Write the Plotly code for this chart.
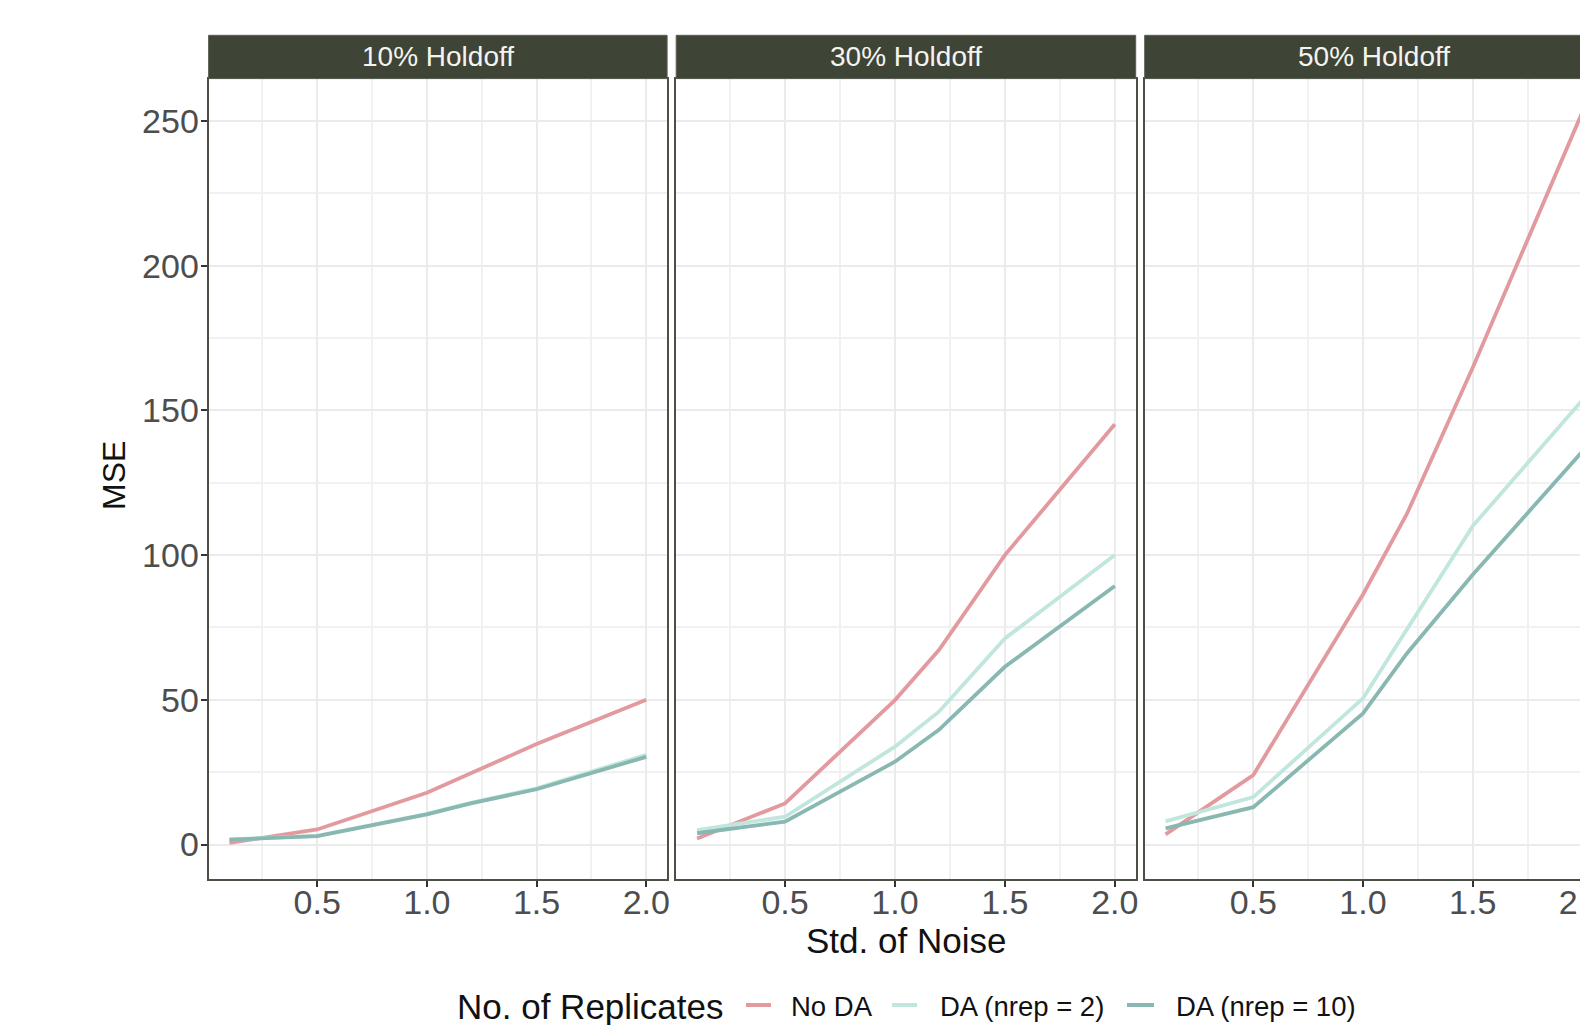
import plotly.graph_objects as go

# ---------------- data ----------------
noise = [0.1, 0.5, 1.0, 1.2, 1.5, 2.0]
panel_labels = ["10% Holdoff", "30% Holdoff", "50% Holdoff"]
series_names = ["No DA", "DA (nrep = 2)", "DA (nrep = 10)"]
series_colors = ["#E29A9E", "#C0E6DD", "#89B7B2"]

no_da_10 = [0.6, 5.2, 17.9, 24.6, 34.7, 50.0]
nrep2_10 = [1.8, 3.0, 10.6, 14.4, 19.4, 31.0]
nrep10_10 = [1.7, 2.9, 10.4, 14.2, 19.1, 30.3]

no_da_30 = [2.1, 14.2, 49.9, 67.2, 100.0, 145.2]
nrep2_30 = [5.0, 9.6, 33.8, 45.9, 71.2, 100.0]
nrep10_30 = [3.9, 7.9, 28.6, 39.6, 61.4, 89.3]

no_da_50 = [3.5, 24.0, 86.4, 114.2, 164.7, 253.0]
nrep2_50 = [8.0, 16.4, 50.5, 74.3, 110.0, 153.5]
nrep10_50 = [5.6, 12.9, 45.3, 66.0, 93.2, 135.8]

x_ticks = [0.5, 1.0, 1.5, 2.0]
x_ticktext = ["0.5", "1.0", "1.5", "2.0"]
x_minor = [0.25, 0.75, 1.25, 1.75]
y_ticks = [0, 50, 100, 150, 200, 250]
y_minor = [25, 75, 125, 175, 225]

panel_series = [
    [no_da_10, nrep2_10, nrep10_10],
    [no_da_30, nrep2_30, nrep10_30],
    [no_da_50, nrep2_50, nrep10_50],
]

# ---------------- layout geometry (pixels) ----------------
W, H = 1610, 1025
panels_px = [(208.6, 667.1), (676.2, 1135.7), (1144.7, 1603.2)]
plot_top, plot_bottom = 78.6, 878.7
strip_top = 35.3

def fx(p):
    return p / W

def fy(p):
    return 1 - p / H

FONT = "Liberation Sans, Arial, sans-serif"
BORDER = "#4B4F46"
STRIP = "#3E4436"
GRID = "#EBEBEB"
GRID_MINOR = "#F1F1F1"

fig = go.Figure()

for i, series in enumerate(panel_series):
    suffix = "" if i == 0 else str(i + 1)
    for name, vals, col in zip(series_names, series, series_colors):
        fig.add_trace(go.Scatter(
            x=noise, y=vals, mode="lines", name=name,
            line=dict(color=col, width=3.8),
            xaxis="x" + suffix, yaxis="y" + suffix,
            showlegend=False, hoverinfo="skip",
        ))

layout = dict(
    width=W, height=H,
    margin=dict(l=0, r=0, t=0, b=0),
    paper_bgcolor="white", plot_bgcolor="white",
    font=dict(family=FONT),
    showlegend=False,
)

for i, (x0, x1) in enumerate(panels_px):
    suffix = "" if i == 0 else str(i + 1)
    layout["xaxis" + suffix] = dict(
        domain=[fx(x0), fx(x1)], range=[0.005, 2.095],
        anchor="y" + suffix,
        tickvals=x_ticks, ticktext=x_ticktext,
        ticks="outside", ticklen=6, tickwidth=2, tickcolor="#333333",
        ticklabelstandoff=-14,
        tickfont=dict(size=34, color="#4D4D4D", family=FONT),
        showgrid=True, gridcolor=GRID, gridwidth=2,
        minor=dict(tickvals=x_minor, showgrid=True, gridcolor=GRID_MINOR, gridwidth=1.6, ticks=""),
        zeroline=False, showline=True, mirror=True, linecolor=BORDER, linewidth=2,
        automargin=False, fixedrange=True,
    )
    layout["yaxis" + suffix] = dict(
        domain=[fy(plot_bottom), fy(plot_top)], range=[-11.8, 264.6],
        anchor="x" + suffix,
        tickvals=y_ticks,
        ticks="outside" if i == 0 else "", ticklen=6, tickwidth=2, tickcolor="#333333",
        ticklabelstandoff=-5,
        showticklabels=(i == 0),
        tickfont=dict(size=34, color="#4D4D4D", family=FONT),
        showgrid=True, gridcolor=GRID, gridwidth=2,
        minor=dict(tickvals=y_minor, showgrid=True, gridcolor=GRID_MINOR, gridwidth=1.6, ticks=""),
        zeroline=False, showline=True, mirror=True, linecolor=BORDER, linewidth=2,
        automargin=False, fixedrange=True,
    )
    if i > 0:
        layout["yaxis" + suffix]["matches"] = "y"

fig.update_layout(**layout)

shapes = []
annotations = []
for (x0, x1), lab in zip(panels_px, panel_labels):
    shapes.append(dict(type="rect", xref="paper", yref="paper",
                       x0=fx(x0), x1=fx(x1), y0=fy(plot_top), y1=fy(strip_top),
                       fillcolor=STRIP, line=dict(color="#5A5E55", width=1), layer="above"))
    annotations.append(dict(text=lab, xref="paper", yref="paper",
                            x=fx((x0 + x1) / 2), y=fy((strip_top + plot_top) / 2),
                            xanchor="center", yanchor="middle", showarrow=False,
                            font=dict(size=28, color="#F4F4F0", family=FONT)))

# axis titles
annotations.append(dict(text="MSE", xref="paper", yref="paper", x=fx(114), y=fy(476),
                        xanchor="center", yanchor="middle", showarrow=False, textangle=-90,
                        font=dict(size=32, color="#111111", family=FONT)))
annotations.append(dict(text="Std. of Noise", xref="paper", yref="paper", x=fx(906), y=fy(940),
                        xanchor="center", yanchor="middle", showarrow=False,
                        font=dict(size=35, color="#111111", family=FONT)))

# legend (manual)
legend_y = 1006
annotations.append(dict(text="No. of Replicates", xref="paper", yref="paper", x=fx(455), y=fy(legend_y),
                        xanchor="left", yanchor="middle", showarrow=False,
                        font=dict(size=35, color="#111111", family=FONT)))
key_px = [(746, 771, 789), (892, 917, 938), (1127, 1154, 1174)]
for (k0, k1, tx), name, col in zip(key_px, series_names, series_colors):
    shapes.append(dict(type="line", xref="paper", yref="paper",
                       x0=fx(k0), x1=fx(k1), y0=fy(legend_y - 1), y1=fy(legend_y - 1),
                       line=dict(color=col, width=4)))
    annotations.append(dict(text=name, xref="paper", yref="paper", x=fx(tx), y=fy(legend_y),
                            xanchor="left", yanchor="middle", showarrow=False,
                            font=dict(size=27.5, color="#111111", family=FONT)))

fig.update_layout(shapes=shapes, annotations=annotations)

fig.write_html(
    "out.html",
    config={"displayModeBar": False},
    post_script="document.documentElement.style.overflow='hidden';document.body.style.overflow='hidden';document.body.style.margin='0';",
)
